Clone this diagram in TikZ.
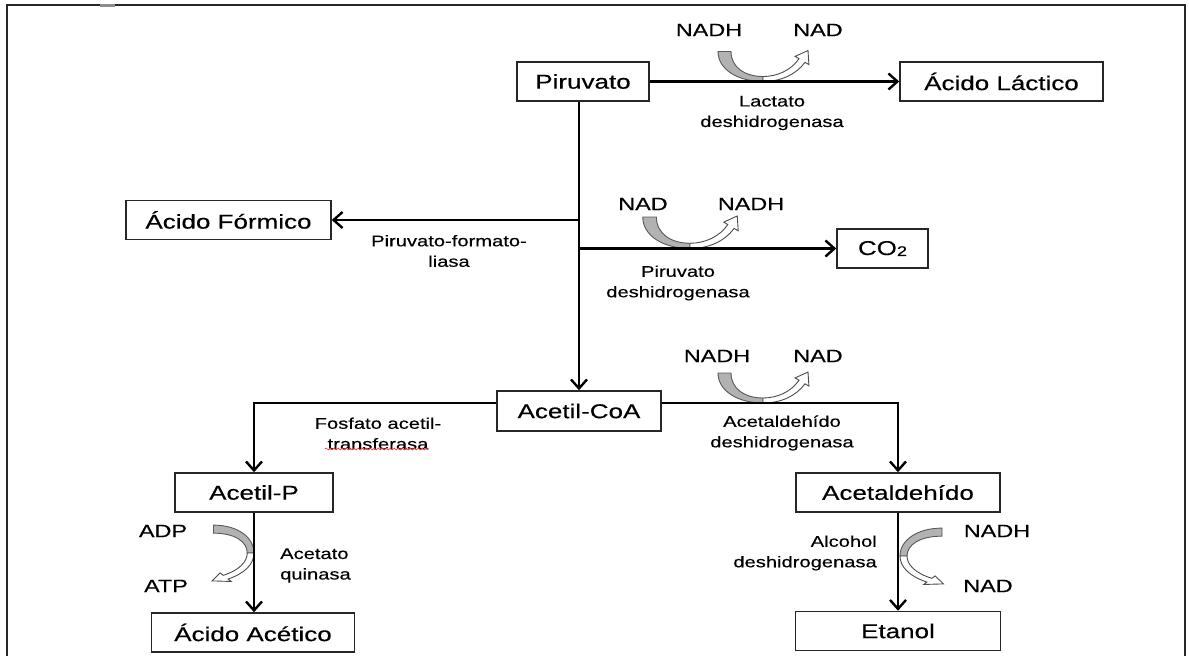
\documentclass[tikz,border=0pt]{standalone}
\usepackage{fontspec}
\setmainfont{Liberation Sans}[FakeStretch=1.3, FakeBold=0.3]
\usetikzlibrary{arrows.meta,decorations.pathmorphing}

\tikzset{
  box/.style={draw=black!85, line width=1.5pt, fill=white, minimum height=39pt,
    inner sep=0pt, font=\fontsize{20}{24}\selectfont},
  conn/.style={line width=2.8pt, -{Straight Barb[length=9pt,width=16pt,line width=2.4pt]}},
  cof/.style={font=\fontsize{18}{22}\selectfont, inner sep=0pt},
  enz/.style={font=\fontsize{15.5}{20.5}\selectfont, inner sep=0pt, align=center},
  inband/.style={fill=black!30, draw=black!65, line width=0.9pt},
  outband/.style={fill=white, draw=black!70, line width=0.9pt},
}

% Curved cofactor arrow: a U-shaped band, grey on the way in, white with a
% head on the way out. Local origin is where the band touches the reaction line.
\newcommand{\cofactorarrow}[1]{%
  \begin{scope}[#1]
    \path[inband] (-45,-30) .. controls (-45,-12) and (-25,0) .. (0,0)
        -- (0,-5) .. controls (-18,-5) and (-32,-14) .. (-32,-30) -- cycle;
    \path[outband] (0,0) .. controls (18,0) and (33,-7) .. (42,-19.2)
        -- (45.9,-16.9) -- (45,-31) -- (32.1,-25.1) -- (36,-22.8)
        .. controls (28,-11) and (14,-5) .. (0,-5) -- cycle;
  \end{scope}}

\begin{document}
\begin{tikzpicture}[x=1pt, y=-1pt]
  \useasboundingbox (0,0) rectangle (1189,656);
  \fill[white] (0,0) rectangle (1189,656);
  \clip (0,0) rectangle (1189,656);

  % outer frame
  \draw[black!85, line width=2pt] (7,5) rectangle (1185,700);
  \fill[black!45] (100,4) rectangle (115,7);

  % cofactor arrows
  \cofactorarrow{shift={(763,81.5)}}
  \cofactorarrow{shift={(690,248.5)}, scale=1.05}
  \cofactorarrow{shift={(763,403)}}
  \cofactorarrow{shift={(900,556)}, rotate=-90, xscale=0.62, yscale=1.4}
  \cofactorarrow{shift={(254,553)}, xscale=-1, rotate=-90, xscale=0.62, yscale=1.35}

  % metabolites
  \node[box, minimum width=132pt] (pir)  at (583,81.5)  {Piruvato};
  \node[box, minimum width=203pt] (lac)  at (1001.5,81.5) {Ácido Láctico};
  \node[box, minimum width=205pt] (form) at (228.5,220) {Ácido Fórmico};
  \node[box, minimum width=91pt]  (co2)  at (882.5,248.5)
    {CO{\fontsize{14}{14}\selectfont\raisebox{-1pt}{2}}};
  \node[box, minimum width=164pt, minimum height=40pt] (acoa) at (579,411) {Acetil-CoA};
  \node[box, minimum width=158pt] (acp)  at (254,492.5) {Acetil-P};
  \node[box, minimum width=204pt] (ald)  at (898,492.5) {Acetaldehído};
  \node[box, minimum width=203pt] (ace)  at (253,632.5) {Ácido Acético};
  \node[box, minimum width=205pt] (eta)  at (898,631)   {Etanol};

  % cofactors
  \node[cof] (nadh1) at (709,30)  {NADH};
  \node[cof] (nad1)  at (818,30)  {NAD};
  \node[cof] (nad2)  at (643,204) {NAD};
  \node[cof] (nadh2) at (751,204) {NADH};
  \node[cof] (nadh3) at (717,356) {NADH};
  \node[cof] (nad3)  at (818,356) {NAD};
  \node[cof] (adp)   at (163,531) {ADP};
  \node[cof] (atp)   at (166,586) {ATP};
  \node[cof] (nadh4) at (997,531) {NADH};
  \node[cof] (nad4)  at (988,586) {NAD};

  % enzymes
  \node[enz] (ldh)  at (772,113)   {Lactato\\deshidrogenasa};
  \node[enz] (pfl)  at (449,251)   {Piruvato-formato-\\liasa};
  \node[enz] (pdh)  at (678,283)   {Piruvato\\deshidrogenasa};
  \node[enz] (pta)  at (378,433.5) {Fosfato acetil-\\transferasa};
  \node[enz] (aldh) at (782,433)   {Acetaldehído\\deshidrogenasa};
  \node[enz, align=left, anchor=west]  (ack) at (280,565.5) {Acetato\\quinasa};
  \node[enz, align=right, anchor=east] (adh) at (877,553)   {Alcohol\\deshidrogenasa};
  \draw[red!80, line width=0.7pt, decorate,
        decoration={snake, amplitude=0.9pt, segment length=4pt}] (325,449) -- (428,449);

  % reactions
  \draw[conn] (pir.east) -- (lac.west);
  \draw[conn] (pir.south -| acoa.north) -- (acoa.north);
  \draw[conn] (acoa.north |- form.east) -- (form.east);
  \draw[conn] (acoa.north |- co2.west) -- (co2.west);
  \draw[conn] ([yshift=8pt]acoa.west) -| (acp.north);
  \draw[conn] ([yshift=8pt]acoa.east) -| (ald.north);
  \draw[conn] (acp.south) -- (acp.south |- ace.north);
  \draw[conn] (ald.south) -- (ald.south |- eta.north);
\end{tikzpicture}
\end{document}
